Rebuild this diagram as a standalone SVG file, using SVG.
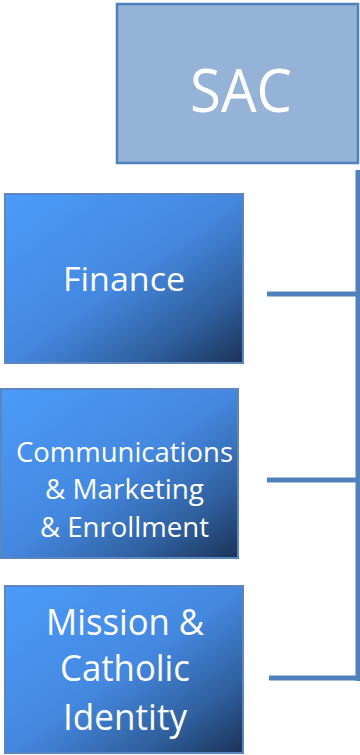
<svg xmlns="http://www.w3.org/2000/svg" width="360" height="755" viewBox="0 0 360 755">
<defs>
<linearGradient id="g" x1="0" y1="0" x2="1" y2="1">
<stop offset="0" stop-color="#4b9bfa"/>
<stop offset="0.5" stop-color="#4488e0"/>
<stop offset="0.78" stop-color="#30609f"/>
<stop offset="1" stop-color="#1b3358"/>
</linearGradient>
</defs>
<style>
.box{fill:url(#g);stroke:#5b86c0;stroke-width:2}
.t{font-family:"Open Sans","Noto Sans",sans-serif;fill:#ffffff;text-anchor:middle}
.c{stroke:#4f81bd;stroke-width:5;fill:none}
</style>
<g id="connectors">
<line class="c" x1="358" y1="170" x2="358" y2="681"/>
<line class="c" x1="267" y1="294" x2="358" y2="294"/>
<line class="c" x1="267" y1="480" x2="358" y2="480"/>
<line class="c" x1="269" y1="678" x2="358" y2="678"/>
</g>
<g id="sac">
<rect x="117" y="4" width="241" height="159" fill="#95b3d7" stroke="#4f81bd" stroke-width="2.5"/>
<text class="t" x="241" y="112" font-size="60" textLength="102" lengthAdjust="spacingAndGlyphs">SAC</text>
</g>
<g id="finance">
<rect class="box" x="5" y="194" width="238" height="169"/>
<text class="t" x="124" y="291" font-size="33" textLength="122" lengthAdjust="spacingAndGlyphs">Finance</text>
</g>
<g id="communications">
<rect class="box" x="1" y="389" width="237" height="169"/>
<text class="t" x="124.5" y="462" font-size="28" textLength="217" lengthAdjust="spacingAndGlyphs">Communications</text>
<text class="t" x="124.5" y="499" font-size="28" textLength="159" lengthAdjust="spacingAndGlyphs">&amp; Marketing</text>
<text class="t" x="124.5" y="537" font-size="28" textLength="169" lengthAdjust="spacingAndGlyphs">&amp; Enrollment</text>
</g>
<g id="mission">
<rect class="box" x="5" y="586" width="238" height="167"/>
<text class="t" x="125" y="635" font-size="37" textLength="158" lengthAdjust="spacingAndGlyphs">Mission &amp;</text>
<text class="t" x="125" y="681" font-size="37" textLength="130" lengthAdjust="spacingAndGlyphs">Catholic</text>
<text class="t" x="125" y="730" font-size="37" textLength="124" lengthAdjust="spacingAndGlyphs">Identity</text>
</g>
</svg>
